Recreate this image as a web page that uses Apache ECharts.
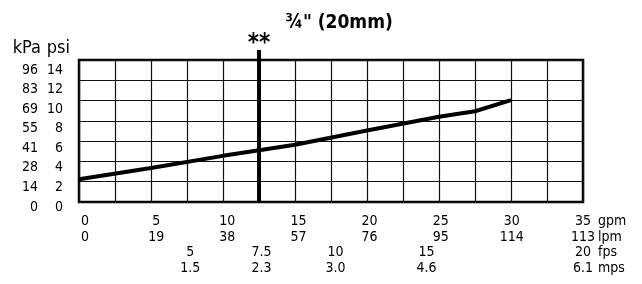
<!doctype html>
<html>
<head>
<meta charset="utf-8">
<title>Pressure loss 3/4"</title>
<script src="https://cdn.jsdelivr.net/npm/echarts@6.0.0/dist/echarts.min.js"></script>
<style>
  html, body { margin: 0; padding: 0; background: #fff; }
  #chart { width: 642px; height: 284px; }
</style>
</head>
<body>
<div id="chart"></div>
<script>
  // flow scale (gpm) and its companion rows
  var gpmTicks = [0, 5, 10, 15, 20, 25, 30, 35];
  var lpmLabels = ['0', '19', '38', '57', '76', '95', '114', '113'];
  var velAt = [7.4, 12.4, 17.6, 24, 35];          // where fps/mps labels sit, in gpm
  var fpsLabels = ['5', '7.5', '10', '15', '20'];
  var mpsLabels = ['1.5', '2.3', '3.0', '4.6', '6.1'];
  var unitRows = ['gpm', 'lpm', 'fps', 'mps'];

  // pressure scale
  var kpaLabels = ['0', '14', '28', '41', '55', '69', '83', '96'];

  // pressure loss curve
  var flowGpm = [0, 5, 10, 15, 20, 25, 27.5, 30];
  var lossPsi = [2.25, 3.35, 4.55, 5.65, 7.05, 8.4, 8.95, 10.05];

  var markerGpm = 12.5;

  var FONT = "'Liberation Sans Narrow', 'DejaVu Sans Condensed', 'Liberation Sans', sans-serif";
  var myChart = echarts.init(document.getElementById('chart'));

  function rowData(row, xs, texts) {
    return xs.map(function (x, i) {
      return { value: [x, row], name: texts[i] };
    });
  }

  var labelText = { show: true, position: 'inside', formatter: '{b}', color: '#000', fontFamily: FONT, fontSize: 14 };

  function labelRow(row, xs, texts) {
    return { type: 'scatter', xAxisIndex: 3, yAxisIndex: 4, symbolSize: 0, silent: true,
      itemStyle: { opacity: 1 }, label: labelText, data: rowData(row, xs, texts) };
  }

  var option = {
    animation: false,
    title: {
      text: '¾" (20mm)',
      left: 334,
      top: 9,
      textAlign: 'center',
      textStyle: { fontFamily: FONT, fontSize: 19, fontWeight: 'bold', color: '#000' }
    },
    grid: [
      // main plot
      { left: 79, right: 59, top: 60, bottom: 82, show: true, borderColor: '#000', borderWidth: 2.5, backgroundColor: 'transparent' },
      // pressure labels (drawn a little lower, like the original)
      { left: 79, right: 59, top: 70, bottom: 77 },
      // marker line that pokes above the plot
      { left: 79, right: 59, top: 50, bottom: 82 },
      // flow / velocity rows under the plot
      { left: 85, right: 59, top: 214, bottom: 8 }
    ],
    xAxis: [
      { gridIndex: 0, type: 'value', min: 0, max: 35, interval: 2.5,
        axisLine: { show: false }, axisTick: { show: false }, axisLabel: { show: false },
        splitLine: { show: true, lineStyle: { color: '#111', width: 1.2 } } },
      { gridIndex: 1, type: 'value', min: 0, max: 35, show: false },
      { gridIndex: 2, type: 'value', min: 0, max: 35, show: false },
      { gridIndex: 3, type: 'value', min: 0, max: 35, show: false }
    ],
    yAxis: [
      { gridIndex: 0, type: 'value', min: 0, max: 14, interval: 2,
        axisLine: { show: false }, axisTick: { show: false }, axisLabel: { show: false },
        splitLine: { show: true, lineStyle: { color: '#111', width: 1.2 } } },
      { gridIndex: 1, type: 'value', min: 0, max: 14, interval: 2, position: 'left',
        name: 'psi', nameLocation: 'end', nameGap: 13,
        nameTextStyle: { fontFamily: FONT, fontSize: 18, color: '#000', align: 'right', padding: [0, 9, 0, 0] },
        axisLine: { show: false }, axisTick: { show: false }, splitLine: { show: false },
        axisLabel: { margin: 16, color: '#000', fontFamily: FONT, fontSize: 14 } },
      { gridIndex: 1, type: 'value', min: 0, max: 14, interval: 2, position: 'left',
        name: 'kPa', nameLocation: 'end', nameGap: 13,
        nameTextStyle: { fontFamily: FONT, fontSize: 18, color: '#000', align: 'right', padding: [0, 38, 0, 0] },
        axisLine: { show: false }, axisTick: { show: false }, splitLine: { show: false },
        axisLabel: { margin: 41, color: '#000', fontFamily: FONT, fontSize: 14,
          formatter: function (v) { return kpaLabels[Math.round(v / 2)]; } } },
      { gridIndex: 2, type: 'value', min: 0, max: 1, show: false },
      { gridIndex: 3, type: 'category', data: unitRows, inverse: true, position: 'right',
        axisLine: { show: false }, axisTick: { show: false }, splitLine: { show: false },
        axisLabel: { interval: 0, margin: 15, align: 'left', color: '#000', fontFamily: FONT, fontSize: 14 } }
    ],
    series: [
      { type: 'line', xAxisIndex: 0, yAxisIndex: 0, showSymbol: false, symbol: 'none',
        lineStyle: { color: '#000', width: 4 },
        data: flowGpm.map(function (g, i) { return [g, lossPsi[i]]; }) },
      { type: 'line', xAxisIndex: 2, yAxisIndex: 3, data: [], symbol: 'none',
        markLine: { silent: true, symbol: 'none',
          lineStyle: { color: '#000', width: 4, type: 'solid' },
          label: { show: true, position: 'end', formatter: '**', distance: -6,
            color: '#000', fontFamily: FONT, fontSize: 24, fontWeight: 'bold' },
          data: [{ xAxis: markerGpm }] } },
      labelRow('gpm', gpmTicks, gpmTicks.map(String)),
      labelRow('lpm', gpmTicks, lpmLabels),
      labelRow('fps', velAt, fpsLabels),
      labelRow('mps', velAt, mpsLabels)
    ]
  };

  myChart.setOption(option);
</script>
</body>
</html>
